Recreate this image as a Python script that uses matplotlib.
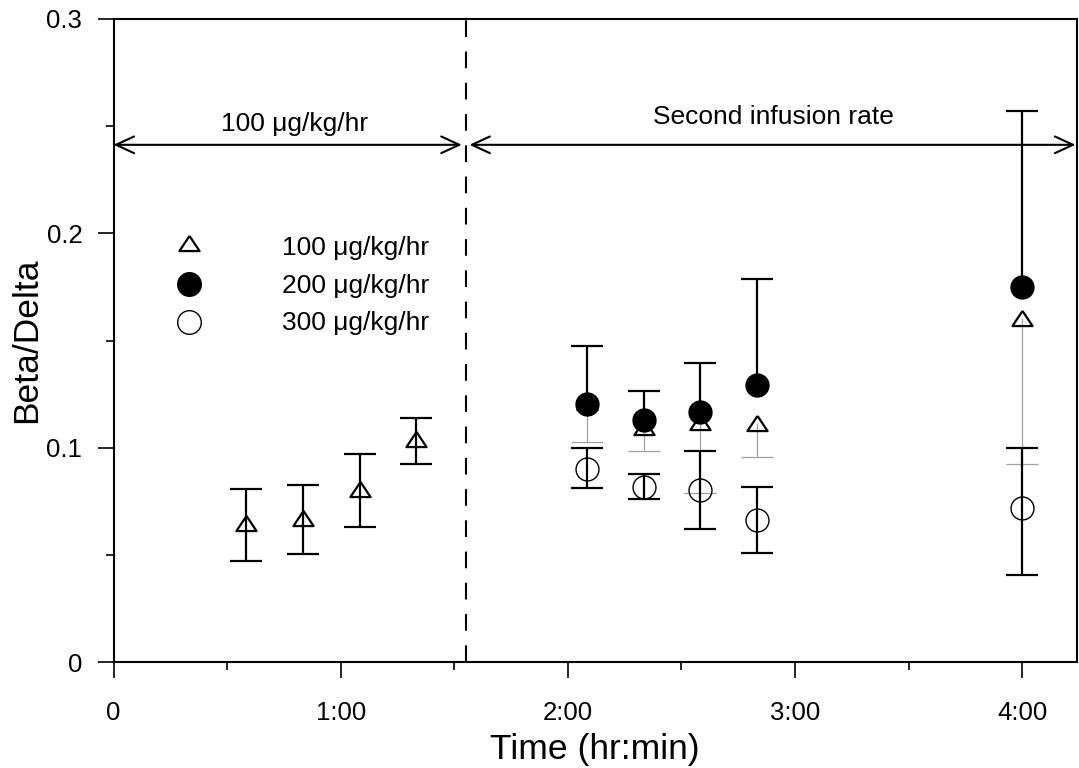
import matplotlib
matplotlib.use("Agg")
import matplotlib.pyplot as plt
from matplotlib.ticker import FixedLocator
import numpy as np

plt.rcParams['font.family'] = ['Liberation Sans', 'DejaVu Sans']

# ---- data (time in minutes) ----
t_first = [35, 50, 65, 80]
b100_first = [0.0647, 0.0673, 0.0809, 0.1039]
b100_first_hi = [0.0806, 0.0824, 0.0969, 0.1137]
b100_first_lo = [0.0471, 0.0502, 0.0631, 0.0922]

t_second = [125, 140, 155, 170, 240]
b100_second = [0.1215, 0.1097, 0.1119, 0.1113, 0.1604]
b100_second_lo = [0.1025, 0.0984, 0.0787, 0.0955, 0.0922]

b200 = [0.1202, 0.1129, 0.1167, 0.1291, 0.1748]
b200_hi = [0.1474, 0.1265, 0.1395, 0.1786, 0.2571]

b300 = [0.0902, 0.0818, 0.0802, 0.0662, 0.0717]
b300_hi = [0.1000, 0.0877, 0.0986, 0.0818, 0.0997]
b300_lo = [0.0810, 0.0759, 0.0619, 0.0507, 0.0406]

xtick_pos = [0, 60, 120, 180, 240]
xtick_labels = ['0', '1:00', '2:00', '3:00', '4:00']
ytick_pos = [0, 0.1, 0.2, 0.3]
ytick_labels = ['0', '0.1', '0.2', '0.3']

legend_labels = ['100 \u03bcg/kg/hr', '200 \u03bcg/kg/hr', '300 \u03bcg/kg/hr']
period_labels = ['100 \u03bcg/kg/hr', 'Second infusion rate']
switch_time = 93
x_max = 254.5

# ---- figure ----
fig = plt.figure(figsize=(10.79, 7.68), dpi=100)
ax = fig.add_axes([113.5 / 1079, 1 - 662 / 768, (1077 - 113.5) / 1079, (662 - 19) / 768])

tri = [(0, 0.75), (-1, -0.75), (1, -0.75), (0, 0.75)]

def err(y, hi=None, lo=None):
    y = np.asarray(y)
    up = np.asarray(hi) - y if hi is not None else np.zeros_like(y)
    dn = y - np.asarray(lo) if lo is not None else np.zeros_like(y)
    return [dn, up]

# 100 second period: gray lower bars only
_, caps, _ = ax.errorbar(t_second, b100_second, yerr=err(b100_second, lo=b100_second_lo),
                         fmt='none', ecolor='#a0a0a0', elinewidth=0.9, capsize=11.5,
                         capthick=0.9, zorder=2)
caps[1].set_visible(False)
ax.plot(t_second, b100_second, linestyle='none', marker=tri, markersize=14.5,
        markerfacecolor='none', markeredgecolor='black', markeredgewidth=1.6, zorder=3)

# 100 first period
ax.errorbar(t_first, b100_first, yerr=err(b100_first, b100_first_hi, b100_first_lo),
            fmt='none', ecolor='black', elinewidth=1.6, capsize=11.5, capthick=1.6, zorder=3)
ax.plot(t_first, b100_first, linestyle='none', marker=tri, markersize=14.5,
        markerfacecolor='none', markeredgecolor='black', markeredgewidth=1.6, zorder=4)

# 200: upper bars only
_, caps, _ = ax.errorbar(t_second, b200, yerr=err(b200, hi=b200_hi),
                         fmt='none', ecolor='black', elinewidth=1.6, capsize=11.5,
                         capthick=1.6, zorder=4)
caps[0].set_visible(False)
ax.plot(t_second, b200, linestyle='none', marker='o', markersize=16.5,
        markerfacecolor='black', markeredgecolor='black', markeredgewidth=1.0, zorder=5)

# 300
ax.errorbar(t_second, b300, yerr=err(b300, b300_hi, b300_lo),
            fmt='none', ecolor='black', elinewidth=1.6, capsize=11.5, capthick=1.6, zorder=4)
ax.plot(t_second, b300, linestyle='none', marker='o', markersize=16.5,
        markerfacecolor='none', markeredgecolor='black', markeredgewidth=1.0, zorder=5)

# dashed separator
ax.axvline(switch_time, color='black', linewidth=1.5, linestyle=(0, (8, 7)), zorder=1)

# period arrows
arrow_y = 0.2413
ax.annotate('', xy=(0, arrow_y), xytext=(switch_time - 1.0, arrow_y),
            arrowprops=dict(arrowstyle='<->,head_length=0.65,head_width=0.3',
                            mutation_scale=20, color='black', lw=1.5,
                            shrinkA=0, shrinkB=0))
ax.annotate('', xy=(switch_time + 1.0, arrow_y), xytext=(x_max - 0.4, arrow_y),
            arrowprops=dict(arrowstyle='<->,head_length=0.65,head_width=0.3',
                            mutation_scale=20, color='black', lw=1.5,
                            shrinkA=0, shrinkB=0))
ax.text(47.7, 0.2478, period_labels[0], ha='center', va='baseline', fontsize=19)
ax.text(174.4, 0.2509, period_labels[1], ha='center', va='baseline', fontsize=19)

# manual legend
leg_x_marker = (189 - 113.5) / 963.5
leg_x_text = (281.7 - 113.5) / 963.5
marker_rows = [(662 - 242.5) / 643, (662 - 284.2) / 643, (662 - 321.7) / 643]
text_rows = [(662 - 255) / 643, (662 - 292.7) / 643, (662 - 330) / 643]
styles = [dict(marker=tri, markersize=14.5, markerfacecolor='none', markeredgewidth=1.6),
          dict(marker='o', markersize=17, markerfacecolor='black', markeredgewidth=1.0),
          dict(marker='o', markersize=17, markerfacecolor='none', markeredgewidth=1.0)]
for lab, my, ty, st in zip(legend_labels, marker_rows, text_rows, styles):
    ax.plot([leg_x_marker], [my], transform=ax.transAxes, linestyle='none',
            markeredgecolor='black', clip_on=False, **st)
    ax.text(leg_x_text, ty, lab, transform=ax.transAxes, ha='left', va='baseline', fontsize=19)

# axes styling
ax.set_xlim(0, x_max)
ax.set_ylim(0, 0.3)
ax.xaxis.set_major_locator(FixedLocator(xtick_pos))
ax.set_xticklabels(xtick_labels)
ax.xaxis.set_minor_locator(FixedLocator([30, 90, 150, 210]))
ax.yaxis.set_major_locator(FixedLocator(ytick_pos))
ax.set_yticklabels(ytick_labels)
ax.yaxis.set_minor_locator(FixedLocator([0.05, 0.15, 0.25]))
ax.tick_params(which='major', direction='out', length=11.5, width=1.2, labelsize=18.5)
ax.tick_params(axis='x', which='major', pad=16.5)
ax.tick_params(axis='y', which='major', pad=11)
ax.tick_params(which='minor', direction='out', length=6, width=1.2)
ax.tick_params(top=False, right=False, which='both')
for s in ax.spines.values():
    s.set_linewidth(1.5)

ax.set_xlabel('Time (hr:min)', fontsize=25.5, labelpad=6)
ax.set_ylabel('Beta/Delta', fontsize=25.5, labelpad=2.5)

fig.savefig('out.png', dpi=100)
